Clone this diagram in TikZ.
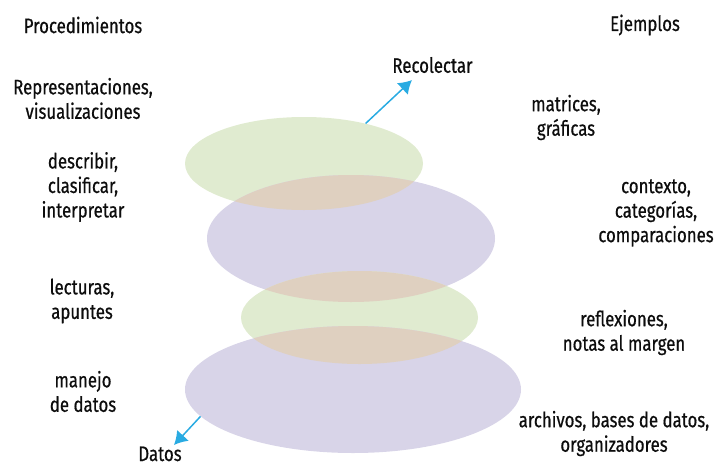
\documentclass[tikz,border=0pt]{standalone}
\usepackage{fontspec}
\setmainfont[FakeStretch=0.8,FakeBold=0.6]{Fira Sans}
\usetikzlibrary{shapes.geometric,arrows.meta}
\definecolor{verde}{RGB}{224,235,208}
\definecolor{lila}{RGB}{216,212,232}
\definecolor{cruce}{RGB}{223,208,192}
\definecolor{flecha}{RGB}{41,171,226}

\begin{document}
\begin{tikzpicture}[x=1pt, y=-1pt,
    capa/.style={ellipse, inner sep=0pt, draw=none},
    texto/.style={align=center, text=black!95, font=\fontsize{21}{24.5}\selectfont},
    rotulo/.style={text=black!95, font=\fontsize{21}{24.5}\selectfont, inner sep=1pt},
    flechita/.style={draw=flecha, line width=1.5pt, -{Latex[length=13pt,width=16pt]}}]
\useasboundingbox (0,0) rectangle (717,466);

\node[capa, fill=verde, minimum width=238pt, minimum height=93pt] (recoger) at (304,163.5) {};
\node[capa, fill=lila,  minimum width=288pt, minimum height=127pt] (ordenar) at (351,238.5) {};
\node[capa, fill=verde, minimum width=237pt, minimum height=93pt] (leer) at (359.5,317.5) {};
\node[capa, fill=lila,  minimum width=336pt, minimum height=127pt] (datos) at (353,389.5) {};

\begin{scope}
  \clip (recoger.center) ellipse [x radius=119pt, y radius=46.5pt];
  \fill[cruce] (ordenar.center) ellipse [x radius=144pt, y radius=63.5pt];
\end{scope}
\begin{scope}
  \clip (leer.center) ellipse [x radius=118.5pt, y radius=46.5pt];
  \fill[cruce] (ordenar.center) ellipse [x radius=144pt, y radius=63.5pt];
  \fill[cruce] (datos.center) ellipse [x radius=168pt, y radius=63.5pt];
\end{scope}

\node[texto] (proc) at (83,25) {Procedimientos};
\node[texto] (ejem) at (645,25) {Ejemplos};

\node[texto] (repr) at (83,98.5) {Representaciones,\\visualizaciones};
\node[texto] (desc) at (83,187) {describir,\\clasificar,\\interpretar};
\node[texto] (lect) at (82,301) {lecturas,\\apuntes};
\node[texto] (mane) at (83,391.5) {manejo\\de datos};

\node[texto] (matr) at (566,117.5) {matrices,\\gráficas};
\node[texto] (cont) at (656,213) {contexto,\\categorías,\\comparaciones};
\node[texto] (refl) at (624,332.5) {reflexiones,\\notas al margen};
\node[texto] (arch) at (614,433.5) {archivos, bases de datos,\\organizadores};

\node[texto] (reco) at (432.5,65) {Recolectar};
\node[rotulo, anchor=base] (dato) at (160,461) {Datos};

\coordinate (arriba) at (412,80);
\coordinate (abajo) at (174,445);
\draw[flechita] (recoger.33) -- (arriba);
\draw[flechita] (datos.190.8) -- (abajo);
\end{tikzpicture}
\end{document}
